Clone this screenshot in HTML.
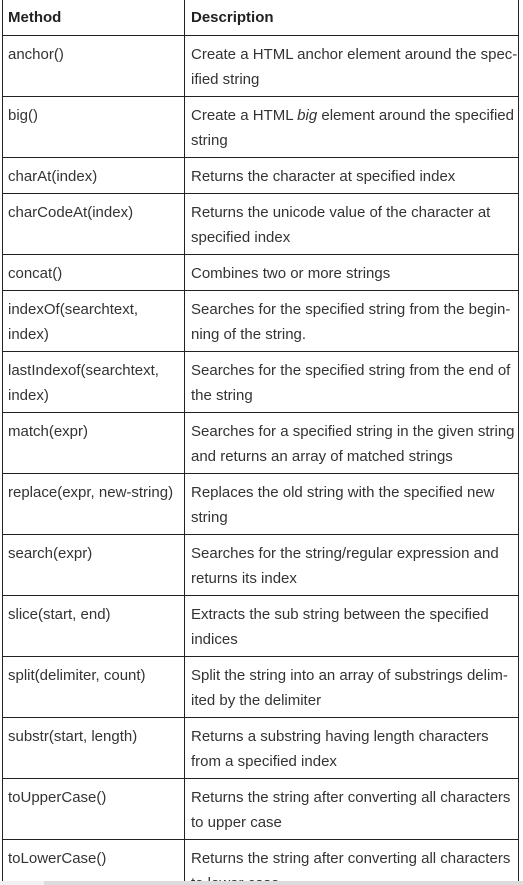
<!DOCTYPE html>
<html><head><meta charset="utf-8"><style>
html,body{margin:0;padding:0;background:#fff;width:523px;height:885px;overflow:hidden;position:relative;font-family:"Liberation Sans",Arial,sans-serif;font-size:15px;color:#333;}
.h{position:absolute;left:2px;width:517px;height:1px;background:#222;}
.v{position:absolute;top:0;width:1px;height:881px;background:#222;}
.t{position:absolute;line-height:24.5px;white-space:nowrap;}
.a{left:8px}.b{left:191px}
.sb{position:absolute;left:0;top:881px;width:523px;height:4px;background:#f1f1f1;}
.sb2{position:absolute;left:44px;top:881px;width:479px;height:4px;background:#dcdcdc;}
</style></head><body>
<div class="v" style="left:2px"></div>
<div class="v" style="left:184px"></div>
<div class="v" style="left:518px"></div>
<div class="h" style="top:35px"></div>
<div class="h" style="top:96px"></div>
<div class="h" style="top:157px"></div>
<div class="h" style="top:193px"></div>
<div class="h" style="top:254px"></div>
<div class="h" style="top:290px"></div>
<div class="h" style="top:351px"></div>
<div class="h" style="top:412px"></div>
<div class="h" style="top:473px"></div>
<div class="h" style="top:534px"></div>
<div class="h" style="top:595px"></div>
<div class="h" style="top:656px"></div>
<div class="h" style="top:717px"></div>
<div class="h" style="top:778px"></div>
<div class="h" style="top:839px"></div>

<div class="t a" style="top:6px;font-weight:bold;color:#222">Method</div>
<div class="t b" style="top:6px;font-weight:bold;color:#222">Description</div>

<div class="t a" style="top:43px">anchor()</div>
<div class="t b" style="top:43px">Create a HTML anchor element around the spec-<br>ified string</div>
<div class="t a" style="top:104px">big()</div>
<div class="t b" style="top:104px">Create a HTML <i>big</i> element around the specified<br>string</div>
<div class="t a" style="top:165px">charAt(index)</div>
<div class="t b" style="top:165px">Returns the character at specified index</div>
<div class="t a" style="top:201px">charCodeAt(index)</div>
<div class="t b" style="top:201px">Returns the unicode value of the character at<br>specified index</div>
<div class="t a" style="top:262px">concat()</div>
<div class="t b" style="top:262px">Combines two or more strings</div>
<div class="t a" style="top:298px">indexOf(searchtext,<br>index)</div>
<div class="t b" style="top:298px">Searches for the specified string from the begin-<br>ning of the string.</div>
<div class="t a" style="top:359px">lastIndexof(searchtext,<br>index)</div>
<div class="t b" style="top:359px">Searches for the specified string from the end of<br>the string</div>
<div class="t a" style="top:420px">match(expr)</div>
<div class="t b" style="top:420px">Searches for a specified string in the given string<br>and returns an array of matched strings</div>
<div class="t a" style="top:481px">replace(expr, new-string)</div>
<div class="t b" style="top:481px">Replaces the old string with the specified new<br>string</div>
<div class="t a" style="top:542px">search(expr)</div>
<div class="t b" style="top:542px">Searches for the string/regular expression and<br>returns its index</div>
<div class="t a" style="top:603px">slice(start, end)</div>
<div class="t b" style="top:603px">Extracts the sub string between the specified<br>indices</div>
<div class="t a" style="top:664px">split(delimiter, count)</div>
<div class="t b" style="top:664px">Split the string into an array of substrings delim-<br>ited by the delimiter</div>
<div class="t a" style="top:725px">substr(start, length)</div>
<div class="t b" style="top:725px">Returns a substring having length characters<br>from a specified index</div>
<div class="t a" style="top:786px">toUpperCase()</div>
<div class="t b" style="top:786px">Returns the string after converting all characters<br>to upper case</div>
<div class="t a" style="top:847px">toLowerCase()</div>
<div class="t b" style="top:847px">Returns the string after converting all characters<br>to lower case</div>
<div class="sb"></div><div class="sb2"></div>
</body></html>
